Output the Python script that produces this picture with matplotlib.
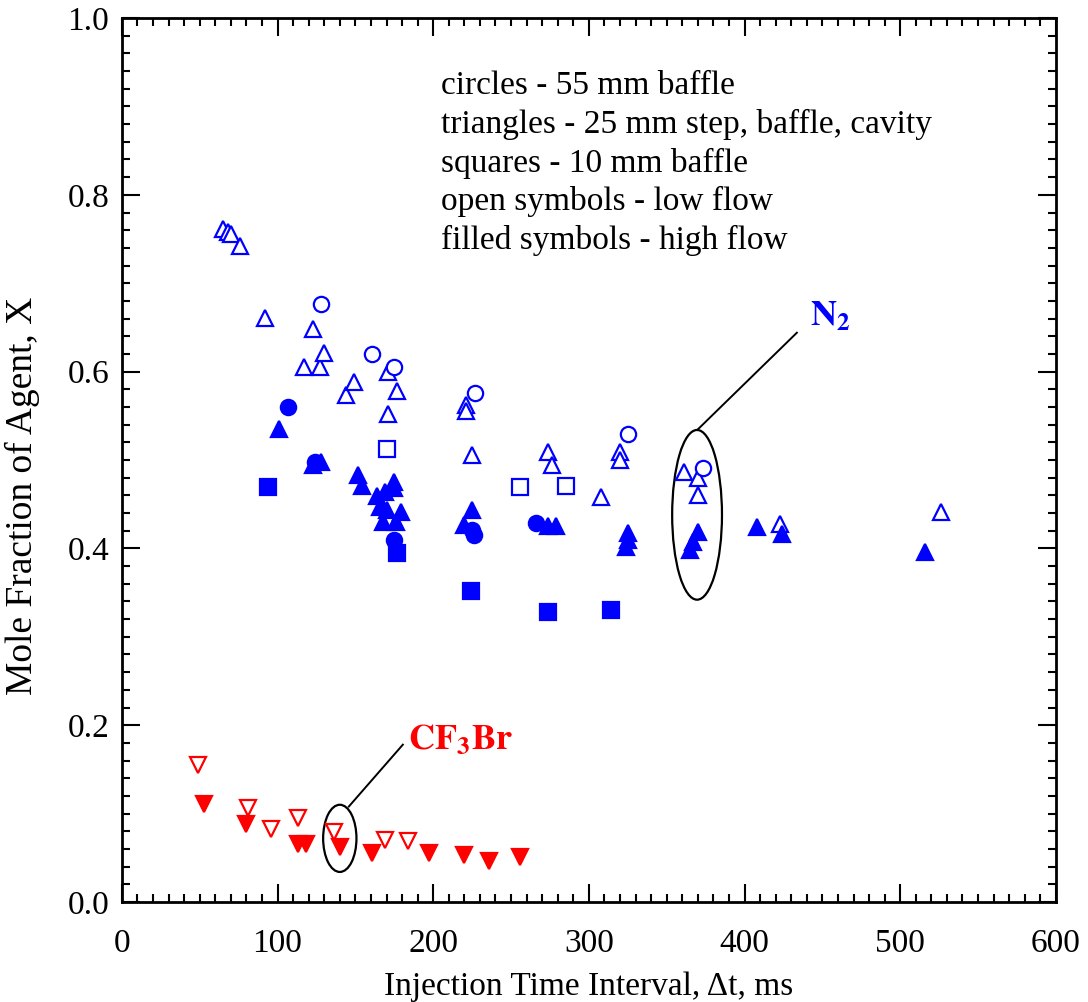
import matplotlib
matplotlib.use("Agg")
from matplotlib import pyplot as plt
from matplotlib.patches import Ellipse
from matplotlib.ticker import MultipleLocator

plt.rcParams['font.family'] = ['Liberation Serif', 'DejaVu Serif']
plt.rcParams['mathtext.fontset'] = 'stix'

BLUE = (0, 0, 1)
RED = (1, 0, 0)

# N2, open triangles (25 mm step, baffle, cavity - low flow)
tri_open_t = [65, 68, 70, 76, 92, 117, 123, 127, 130, 144, 149, 171, 171, 177, 221, 221, 225,
              274, 276, 308, 320, 320, 361, 370, 370, 423, 526]
tri_open_x = [0.761, 0.758, 0.756, 0.742, 0.661, 0.605, 0.648, 0.605, 0.621, 0.574, 0.588, 0.600,
              0.552, 0.578, 0.562, 0.555, 0.506, 0.509, 0.494, 0.458, 0.509, 0.500, 0.487, 0.480,
              0.460, 0.428, 0.441]

# N2, open circles (55 mm baffle - low flow)
circ_open_t = [128, 161, 175, 227, 325, 373]
circ_open_x = [0.676, 0.620, 0.605, 0.576, 0.529, 0.491]

# N2, open squares (10 mm baffle - low flow)
sq_open_t = [170, 256, 285]
sq_open_x = [0.513, 0.469, 0.471]

# N2, filled triangles (high flow)
tri_fill_t = [101, 123, 128, 152, 154, 164, 166, 169, 170, 168, 175, 175, 179, 176, 220, 225,
              274, 279, 325, 325, 324, 370, 367, 365, 408, 424, 516]
tri_fill_x = [0.535, 0.494, 0.498, 0.483, 0.471, 0.459, 0.447, 0.464, 0.443, 0.430, 0.475, 0.468,
              0.441, 0.430, 0.426, 0.443, 0.425, 0.425, 0.417, 0.410, 0.402, 0.419, 0.407, 0.398,
              0.424, 0.416, 0.396]

# N2, filled circles
circ_fill_t = [107, 124, 175, 225, 226, 266]
circ_fill_x = [0.560, 0.498, 0.410, 0.421, 0.415, 0.429]

# N2, filled squares
sq_fill_t = [94, 177, 224, 274, 314]
sq_fill_x = [0.470, 0.395, 0.352, 0.328, 0.330]

# CF3Br, open / filled inverted triangles
cf_open_t = [49, 81, 96, 113, 136, 169, 184]
cf_open_x = [0.155, 0.106, 0.083, 0.095, 0.079, 0.070, 0.069]
cf_fill_t = [53, 80, 113, 118, 140, 161, 197, 220, 236, 256]
cf_fill_x = [0.111, 0.088, 0.066, 0.066, 0.062, 0.055, 0.055, 0.053, 0.046, 0.051]

notes = ["circles - 55 mm baffle",
         "triangles - 25 mm step, baffle, cavity",
         "squares - 10 mm baffle",
         "open symbols - low flow",
         "filled symbols - high flow"]


def main():
    fig = plt.figure(figsize=(10.88, 10.02), dpi=100)
    ax = fig.add_axes([0.112, 0.0998, 0.8585, 0.8822])

    mk = dict(linestyle='none', markeredgewidth=1.6)
    ax.plot(tri_open_t, tri_open_x, marker='^', ms=12, mfc='white', mec=BLUE, **mk)
    ax.plot(circ_open_t, circ_open_x, marker='o', ms=11, mfc='white', mec=BLUE, **mk)
    ax.plot(sq_open_t, sq_open_x, marker='s', ms=11, mfc='white', mec=BLUE, **mk)
    ax.plot(tri_fill_t, tri_fill_x, marker='^', ms=12, mfc=BLUE, mec=BLUE, **mk)
    ax.plot(circ_fill_t, circ_fill_x, marker='o', ms=11, mfc=BLUE, mec=BLUE, **mk)
    ax.plot(sq_fill_t, sq_fill_x, marker='s', ms=11, mfc=BLUE, mec=BLUE, **mk)
    ax.plot(cf_open_t, cf_open_x, marker='v', ms=12, mfc='white', mec=RED, **mk)
    ax.plot(cf_fill_t, cf_fill_x, marker='v', ms=12, mfc=RED, mec=RED, **mk)

    # callouts
    ax.add_patch(Ellipse((369.5, 0.438), 32, 0.192, fill=False, ec='black', lw=1.6))
    ax.plot([369.6, 433.6], [0.534, 0.644], color='black', lw=1.4)
    ax.text(442, 0.661, r'$\mathbf{N_2}$', color=BLUE, fontsize=26, va='center', ha='left')

    ax.add_patch(Ellipse((140, 0.072), 21.4, 0.076, fill=False, ec='black', lw=1.6))
    ax.plot([145.8, 180.5], [0.108, 0.178], color='black', lw=1.4)
    ax.text(183.7, 0.183, r'$\mathbf{CF_3Br}$', color=RED, fontsize=26, va='center', ha='left')

    for i, line in enumerate(notes):
        ax.text(205, 0.923 - i * 0.0436, line, fontsize=24, va='center', ha='left')

    ax.set_xlim(0, 600)
    ax.set_ylim(0, 1.0)
    ax.xaxis.set_major_locator(MultipleLocator(100))
    ax.xaxis.set_minor_locator(MultipleLocator(10))
    ax.yaxis.set_major_locator(MultipleLocator(0.2))
    ax.yaxis.set_minor_locator(MultipleLocator(0.02))
    ax.yaxis.set_major_formatter(plt.FuncFormatter(lambda v, p: f"{v:.1f}"))
    ax.tick_params(which='both', direction='in', top=True, right=True, labelsize=24, width=1.5)
    ax.tick_params(which='major', length=13)
    ax.tick_params(which='minor', length=6)
    ax.tick_params(axis='x', which='major', pad=19)
    ax.tick_params(axis='y', which='major', pad=9)
    for s in ax.spines.values():
        s.set_linewidth(2)

    ax.set_xlabel('Injection Time Interval, Δt, ms', fontsize=24)
    ax.set_ylabel('Mole Fraction of Agent, X', fontsize=27)
    ax.xaxis.set_label_coords(0.5, -0.079)
    ax.yaxis.set_label_coords(-0.088, 0.46)

    fig.savefig('out.png', dpi=100)


if __name__ == '__main__':
    main()
